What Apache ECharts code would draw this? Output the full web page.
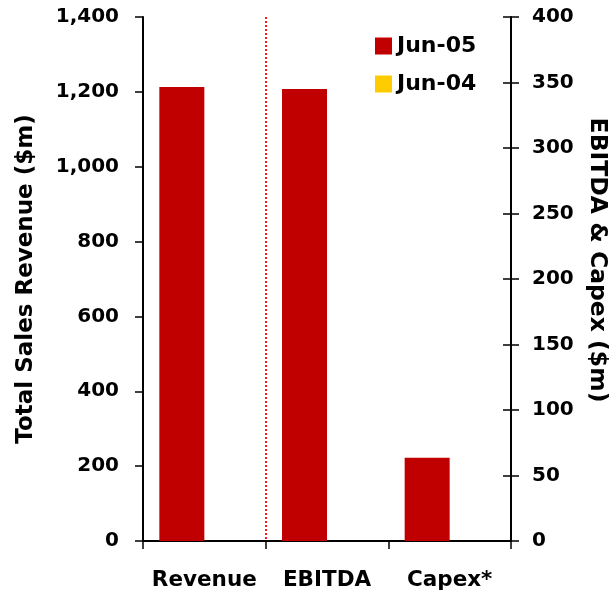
<!DOCTYPE html>
<html lang="en">

<head>
    <meta charset="UTF-8">
    <title>Revenue, EBITDA & Capex</title>
    <script src="https://cdn.jsdelivr.net/npm/echarts@6/dist/echarts.min.js"></script>
</head>

<body style="margin:0;">
    <div id="main" style="width: 612px;height: 593px;"></div>
    <script>
        let chart = echarts.init(document.getElementById('main'));

        var categories = ['Revenue', 'EBITDA', 'Capex*'];
        // Revenue is read on the left axis, EBITDA and Capex on the right one
        var jun05Revenue = [1213, '-', '-'];
        var jun05Other = ['-', 345, 63.5];
        var jun04 = ['-', '-', '-'];
        var leftTicks = { min: 0, max: 1400, interval: 200 };
        var rightTicks = { min: 0, max: 400, interval: 50 };

        var font = 'DejaVu Sans';
        function txt(size) {
            return { fontFamily: font, fontWeight: 'bold', fontSize: size, color: '#000' };
        }
        var tickStyle = { color: '#000', width: 1.5 };
        var none = 'rgba(0,0,0,0)';

        option = {
            animation: false,
            grid: { left: 143, right: 101, top: 17, bottom: 52, outerBoundsMode: 'none' },
            legend: {
                orient: 'vertical',
                left: 375,
                top: 35,
                padding: 0,
                itemWidth: 17,
                itemHeight: 17,
                itemGap: 16,
                icon: 'rect',
                textStyle: txt(22),
                data: ['Jun-05', 'Jun-04']
            },
            xAxis: [{
                type: 'category',
                data: categories,
                axisLine: { lineStyle: { color: '#000', width: 2 } },
                axisTick: { show: true, interval: 0, length: 8, lineStyle: tickStyle },
                axisLabel: Object.assign({ margin: 28, interval: 0 }, txt(21.5)),
                splitLine: {
                    show: true,
                    interval: 0,
                    // only the boundary between Revenue and EBITDA is shown
                    lineStyle: { color: [none, '#ff0000', none, none], type: [2, 2], width: 1.8 }
                }
            }, {
                type: 'category',
                data: categories,
                position: 'top',
                axisLine: { lineStyle: { color: '#000', width: 2 } },
                axisTick: { show: false },
                axisLabel: { show: false }
            }],
            yAxis: [{
                type: 'value',
                min: leftTicks.min, max: leftTicks.max, interval: leftTicks.interval,
                name: 'Total Sales Revenue ($m)',
                nameLocation: 'middle',
                nameGap: 105,
                nameTextStyle: txt(23),
                axisLine: { show: true, lineStyle: { color: '#000', width: 2 } },
                axisTick: { show: true, length: 8, lineStyle: tickStyle },
                axisLabel: Object.assign({
                    margin: 24,
                    formatter: function (v) { return v.toLocaleString('en-US'); }
                }, txt(20)),
                splitLine: { show: false }
            }, {
                type: 'value',
                position: 'right',
                min: rightTicks.min, max: rightTicks.max, interval: rightTicks.interval,
                name: 'EBITDA & Capex ($m)',
                nameLocation: 'middle',
                nameRotate: -90,
                nameGap: 62,
                nameTextStyle: Object.assign({ padding: [0, 38, 0, 0] }, txt(23.5)),
                axisLine: { show: true, lineStyle: { color: '#000', width: 2 } },
                axisTick: { show: true, length: 8, lineStyle: tickStyle },
                axisLabel: Object.assign({ margin: 21 }, txt(20)),
                splitLine: { show: false }
            }, {
                // inner half of the crossing ticks on the right axis
                type: 'value',
                position: 'right',
                min: rightTicks.min, max: rightTicks.max, interval: rightTicks.interval,
                axisLine: { show: false },
                axisTick: { show: true, inside: true, length: 8, lineStyle: tickStyle },
                axisLabel: { show: false },
                splitLine: { show: false }
            }],
            series: [{
                type: 'bar',
                name: 'Jun-05',
                stack: 'jun05',
                yAxisIndex: 0,
                barWidth: 45,
                barGap: '0%',
                itemStyle: { color: '#c00000' },
                data: jun05Revenue
            }, {
                type: 'bar',
                name: 'Jun-05',
                stack: 'jun05',
                yAxisIndex: 1,
                barWidth: 45,
                barGap: '0%',
                itemStyle: { color: '#c00000' },
                data: jun05Other
            }, {
                type: 'bar',
                name: 'Jun-04',
                stack: 'jun04',
                yAxisIndex: 0,
                barWidth: 45,
                barGap: '0%',
                itemStyle: { color: '#ffcc00' },
                data: jun04
            }]
        };
        chart.setOption(option);
    </script>
</body>

</html>
